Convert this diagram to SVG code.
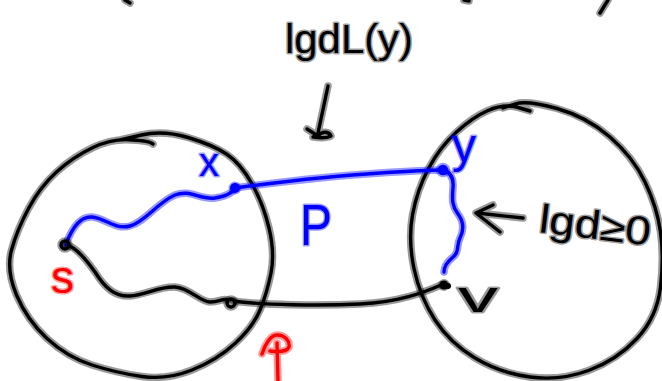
<svg xmlns="http://www.w3.org/2000/svg" xmlns:xlink="http://www.w3.org/1999/xlink" width="662" height="381" viewBox="0 0 662 381">
<style>
.k{stroke:#000;fill:none;stroke-linecap:round;stroke-linejoin:round}
.b{stroke:#0000ff;fill:none;stroke-linecap:round;stroke-linejoin:round}
.r{stroke:#ff0000;fill:none;stroke-linecap:round;stroke-linejoin:round}
.h{stroke-width:7.5;stroke-opacity:0.4}
.i{stroke-width:3.4}
.t{font-family:"Liberation Sans","DejaVu Sans",sans-serif;paint-order:stroke;stroke-width:3;stroke-linejoin:round}
.tk{fill:#000;stroke:#000;stroke-opacity:0.4}
.tb{fill:#0000ff;stroke:#0000ff;stroke-opacity:0.4}
.tr{fill:#ff0000;stroke:#ff0000;stroke-opacity:0.4}
</style>
<defs>
<path id="leftSet" d="M120,140 L141.5,135 Q163,130 188,137.5 Q213,145 226.5,154 Q240,163 251.5,183 Q263,203 269,228 Q275,253 271,273 Q267,293 260,310 Q253,327 235,343.5 Q217,360 192,370 Q167,380 142,376.5 Q117,373 92,365 Q67,357 47,338.5 Q27,320 16.5,295 Q6,270 11.5,250 Q17,230 28.5,208.5 Q40,187 56.5,172 Q73,157 93,147.5 Q113,138 132.5,140 Q150,141 153,144"/>
<path id="rightSet" d="M503,108 L515,104 Q527,100 557,108.5 Q587,117 610,137 Q633,157 645,182 Q657,207 660.5,232 Q664,257 660.5,287 Q657,317 637,338.5 Q617,360 588.5,370.5 Q560,381 530,377 Q500,373 475,358 Q450,343 435,320 Q420,297 414,268.5 Q408,240 412.5,215 Q417,190 428.5,168.5 Q440,147 456.5,132 Q473,117 488,110.5 Q503,104 516.5,107 L530,111"/>
<path id="blueSX" d="M66,244 C72,228 80,216 92,217 C105,218 115,230 130,226 C145,222 158,202 175,195 C190,189 200,200 215,198 C228,196 233,192 235,188"/>
<path id="blueXY" d="M235,188 C280,182 330,176 380,173 C410,171 430,170 443,170"/>
<path id="blueYV" d="M443,170 C450,172 454,178 453,188 C452,200 452,206 458,214 C464,222 464,230 460,238 C456,246 460,252 452,258 C446,263 444,268 444,272"/>
<path id="blackS" d="M66,245 C75,246 85,258 95,272 C105,288 115,297 130,296 C145,295 160,286 175,287 C190,288 200,302 210,302 C220,302 222,298 228,300"/>
<path id="blackV" d="M234,301 C260,305 320,306 360,304 C400,302 425,292 441,285"/>
<path id="arrowTop" d="M328,86 L318,133 M307,129 L318,136 M318,136 C322,131 329,131 331,136 C327,138 320,138 313,137"/>
<path id="arrowRight" d="M523,218 L477,213 M493,205 L476,213 L500,232"/>
<path id="redArrow" d="M278,381 L277,343 M262,354 C265,344 271,335 277,335 C285,335 290,341 289,347 C287,352 278,352 270,351"/>
<path id="marks" d="M125,0 L130,3 M464,0 L469,1 M608,0 L600,13"/>
</defs>

<g id="marks-top">
<use href="#marks" class="k h"/><use href="#marks" class="k i"/>
</g>

<g id="node-left-set">
<use href="#leftSet" class="k h"/><use href="#leftSet" class="k i"/>
</g>

<g id="node-right-set">
<use href="#rightSet" class="k h"/><use href="#rightSet" class="k i"/>
<text class="t tk" x="538" y="232" font-size="40" textLength="112" lengthAdjust="spacingAndGlyphs" transform="rotate(7 538 232)">lgd≥0</text>
</g>

<g id="connectors">
<use href="#blackS" class="k h"/><use href="#blackS" class="k i"/>
<use href="#blackV" class="k h"/><use href="#blackV" class="k i"/>
<use href="#blueSX" class="b h"/><use href="#blueSX" class="b i"/>
<use href="#blueXY" class="b h"/><use href="#blueXY" class="b i"/>
<use href="#blueYV" class="b h"/><use href="#blueYV" class="b i"/>
<use href="#arrowTop" class="k h"/><use href="#arrowTop" class="k i"/>
<use href="#arrowRight" class="k h"/><use href="#arrowRight" class="k i"/>
<use href="#redArrow" class="r h"/><use href="#redArrow" class="r i"/>
</g>

<g id="node-s">
<circle cx="65" cy="245" r="4" class="k h"/><circle cx="65" cy="245" r="4" class="k i" fill="#fff"/>
<text class="t tr" x="51" y="293" font-size="46">s</text>
</g>

<g id="node-mid">
<circle cx="231" cy="303" r="4" class="k h"/><circle cx="231" cy="303" r="4" class="k i"/>
</g>

<g id="node-x">
<circle cx="235" cy="188" r="5" fill="#0000ff" stroke="#0000ff" stroke-opacity="0.4" stroke-width="3"/>
<text class="t tb" x="199" y="176" font-size="40">x</text>
</g>

<g id="node-y">
<circle cx="443" cy="170" r="3.5" class="b h"/><circle cx="443" cy="170" r="3.5" class="b i"/>
<text class="t tb" x="452" y="162" font-size="48">y</text>
</g>

<g id="node-v">
<circle cx="444" cy="285" r="4.5" fill="#000" stroke="#000" stroke-opacity="0.4" stroke-width="3"/>
<circle cx="448" cy="286" r="3" fill="#000"/>
<text class="t tk" x="458" y="312" font-size="44" textLength="40" lengthAdjust="spacingAndGlyphs">v</text>
</g>

<g id="label-path">
<text class="t tb" x="300" y="245" font-size="58" textLength="32" lengthAdjust="spacingAndGlyphs">P</text>
</g>

<g id="label-top">
<text class="t tk" x="285" y="53" font-size="40" textLength="128" lengthAdjust="spacingAndGlyphs">lgdL(y)</text>
</g>
</svg>
